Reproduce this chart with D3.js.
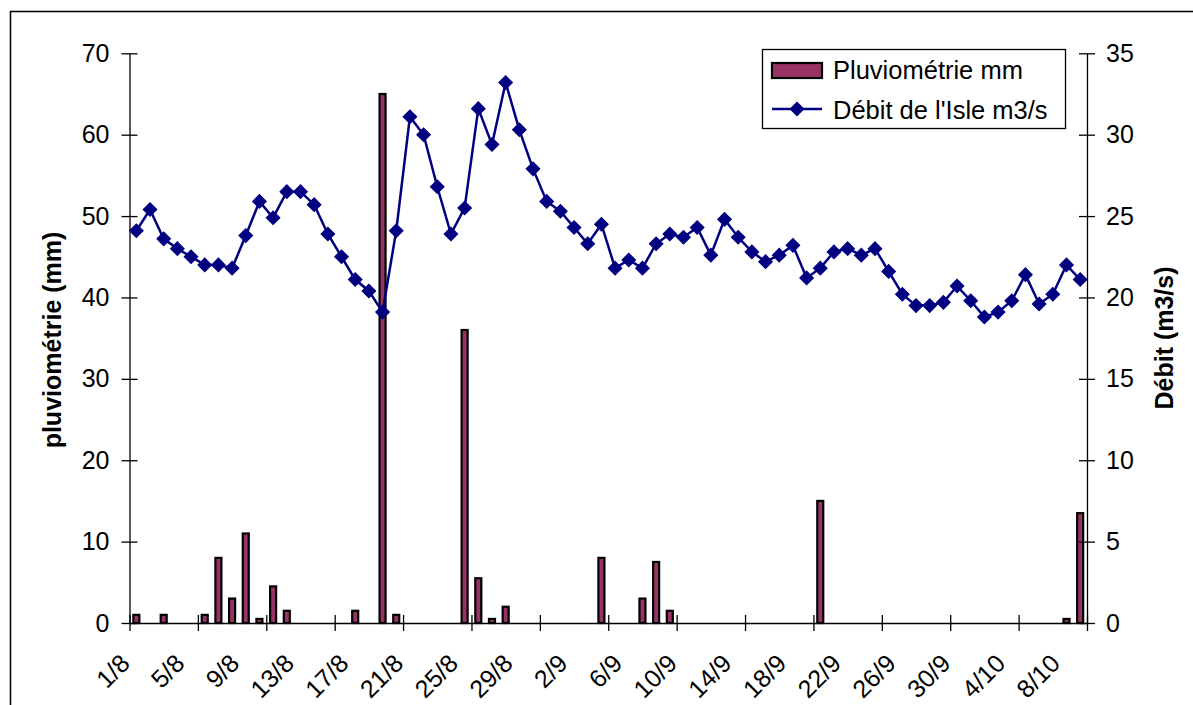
<!DOCTYPE html>
<html>
<head>
<meta charset="utf-8">
<script src="https://cdnjs.cloudflare.com/ajax/libs/d3/7.8.5/d3.min.js"></script>
<style>
  body { margin: 0; background: #fff; }
  text { font-family: "Liberation Sans", Arial, sans-serif; fill: #000; }
</style>
</head>
<body>
<div id="chart"></div>
<script>
// categories: one per day, 1/8 to 9/10
const dates = [
  "1/8","2/8","3/8","4/8","5/8","6/8","7/8","8/8","9/8","10/8",
  "11/8","12/8","13/8","14/8","15/8","16/8","17/8","18/8","19/8","20/8",
  "21/8","22/8","23/8","24/8","25/8","26/8","27/8","28/8","29/8","30/8",
  "31/8","1/9","2/9","3/9","4/9","5/9","6/9","7/9","8/9","9/9",
  "10/9","11/9","12/9","13/9","14/9","15/9","16/9","17/9","18/9","19/9",
  "20/9","21/9","22/9","23/9","24/9","25/9","26/9","27/9","28/9","29/9",
  "30/9","1/10","2/10","3/10","4/10","5/10","6/10","7/10","8/10","9/10"
];

// rainfall (mm), left axis
const pluvio = [
  1, 0, 1, 0, 0, 1, 8, 3, 11, 0.5,
  4.5, 1.5, 0, 0, 0, 0, 1.5, 0, 65, 1,
  0, 0, 0, 0, 36, 5.5, 0.5, 2, 0, 0,
  0, 0, 0, 0, 8, 0, 0, 3, 7.5, 1.5,
  0, 0, 0, 0, 0, 0, 0, 0, 0, 0,
  15, 0, 0, 0, 0, 0, 0, 0, 0, 0,
  0, 0, 0, 0, 0, 0, 0, 0, 0.5, 13.5
];

// flow of the Isle (m3/s), right axis
const debit = [
  24.1, 25.4, 23.6, 23.0, 22.5, 22.0, 22.0, 21.8, 23.8, 25.9,
  24.9, 26.5, 26.5, 25.7, 23.9, 22.5, 21.1, 20.4, 19.1, 24.1,
  31.1, 30.0, 26.8, 23.9, 25.5, 31.6, 29.4, 33.2, 30.3, 27.9,
  25.9, 25.3, 24.3, 23.3, 24.5, 21.8, 22.3, 21.8, 23.3, 23.9,
  23.7, 24.3, 22.6, 24.8, 23.7, 22.8, 22.2, 22.6, 23.2, 21.2,
  21.8, 22.8, 23.0, 22.6, 23.0, 21.6, 20.2, 19.5, 19.5, 19.7,
  20.7, 19.8, 18.8, 19.1, 19.8, 21.4, 19.6, 20.2, 22.0, 21.1
];

const leftTicks = [0, 10, 20, 30, 40, 50, 60, 70];
const rightTicks = [0, 5, 10, 15, 20, 25, 30, 35];
const legendLabels = ["Pluviométrie mm", "Débit de l'Isle m3/s"];

const width = 1193, height = 705;
const plotLeft = 129.5, plotRight = 1087, plotTop = 53.3, plotBottom = 623;
const barColor = "#993366", lineColor = "#000080";

const svg = d3.select("#chart").append("svg")
    .attr("width", width)
    .attr("height", height);

// outer frame of the chart
svg.append("rect")
    .attr("x", 10.5).attr("y", 11.5)
    .attr("width", 1300).attr("height", 800)
    .attr("fill", "none").attr("stroke", "#000").attr("stroke-width", 1.5);

const x = d3.scaleBand().domain(d3.range(dates.length)).range([plotLeft, plotRight]);
const xb = d3.scaleLinear().domain([0, dates.length]).range([plotLeft, plotRight]);
const yL = d3.scaleLinear().domain([0, 70]).range([plotBottom, plotTop]);
const yR = d3.scaleLinear().domain([0, 35]).range([plotBottom, plotTop]);
const cx = i => x(i) + x.bandwidth() / 2;

// bars
svg.append("g").selectAll("rect")
  .data(pluvio.map((v, i) => ({ v, i })).filter(d => d.v > 0))
  .enter().append("rect")
    .attr("x", d => cx(d.i) - 3)
    .attr("y", d => yL(d.v))
    .attr("width", 6)
    .attr("height", d => yL(0) - yL(d.v))
    .attr("fill", barColor)
    .attr("stroke", "#000")
    .attr("stroke-width", 2.2);

// axes
const gL = svg.append("g")
    .attr("transform", "translate(" + plotLeft + ",0)")
    .call(d3.axisLeft(yL).tickValues(leftTicks).tickSize(8).tickPadding(12).tickSizeOuter(0));
gL.selectAll(".tick line").attr("x1", -8).attr("x2", 8);

const gR = svg.append("g")
    .attr("transform", "translate(" + plotRight + ",0)")
    .call(d3.axisRight(yR).tickValues(rightTicks).tickSize(8).tickPadding(11).tickSizeOuter(0));
gR.selectAll(".tick line").attr("x1", -8).attr("x2", 8);

const gX = svg.append("g")
    .attr("transform", "translate(0," + plotBottom + ")")
    .call(d3.axisBottom(xb).tickValues(d3.range(0, dates.length + 1, 5)).tickFormat("").tickSize(8).tickSizeOuter(0));
gX.selectAll(".tick line").attr("y1", -8).attr("y2", 8);

svg.selectAll(".domain, .tick line").attr("stroke", "#000").attr("stroke-width", 1.3);
svg.selectAll(".tick text")
    .style("font-family", '"Liberation Sans", Arial, sans-serif')
    .style("font-size", "25px")
    .attr("fill", "#000");

// x labels, every 4 days, rotated
svg.append("g").selectAll("text")
  .data(d3.range(0, dates.length, 4))
  .enter().append("text")
    .attr("transform", i => "translate(" + (cx(i) - 5) + ",665) rotate(-45)")
    .attr("text-anchor", "end")
    .style("font-size", "25px")
    .text(i => dates[i]);

// axis titles
svg.append("text")
    .attr("transform", "translate(61,340) rotate(-90)")
    .attr("text-anchor", "middle")
    .style("font-size", "25px").style("font-weight", "bold")
    .text("pluviométrie (mm)");

svg.append("text")
    .attr("transform", "translate(1173,338) rotate(-90)")
    .attr("text-anchor", "middle")
    .style("font-size", "25px").style("font-weight", "bold")
    .text("Débit (m3/s)");

// line + markers
const line = d3.line().x((d, i) => cx(i)).y(d => yR(d));
svg.append("path")
    .datum(debit)
    .attr("d", line)
    .attr("fill", "none")
    .attr("stroke", lineColor)
    .attr("stroke-width", 2.5);

const diamond = d3.symbol().type(d3.symbolSquare).size(90);
svg.append("g").selectAll("path")
  .data(debit)
  .enter().append("path")
    .attr("d", diamond)
    .attr("transform", (d, i) => "translate(" + cx(i) + "," + yR(d) + ") rotate(45)")
    .attr("fill", lineColor)
    .attr("stroke", lineColor)
    .attr("stroke-width", 1.2);

// legend
const lg = svg.append("g");
lg.append("rect")
    .attr("x", 762.5).attr("y", 49.5).attr("width", 303).attr("height", 79)
    .attr("fill", "#fff").attr("stroke", "#000").attr("stroke-width", 1.3);
lg.append("rect")
    .attr("x", 772).attr("y", 63).attr("width", 50).attr("height", 15)
    .attr("fill", barColor).attr("stroke", "#000").attr("stroke-width", 2.2);
lg.append("line")
    .attr("x1", 772).attr("x2", 822).attr("y1", 109).attr("y2", 109)
    .attr("stroke", lineColor).attr("stroke-width", 2.5);
lg.append("path")
    .attr("d", diamond)
    .attr("transform", "translate(797,109) rotate(45)")
    .attr("fill", lineColor)
    .attr("stroke", lineColor)
    .attr("stroke-width", 1.2);
lg.selectAll(".lt")
  .data(legendLabels)
  .enter().append("text")
    .attr("x", 833)
    .attr("y", (d, i) => 79 + i * 40)
    .style("font-size", "25.5px")
    .text(d => d);
</script>
</body>
</html>
